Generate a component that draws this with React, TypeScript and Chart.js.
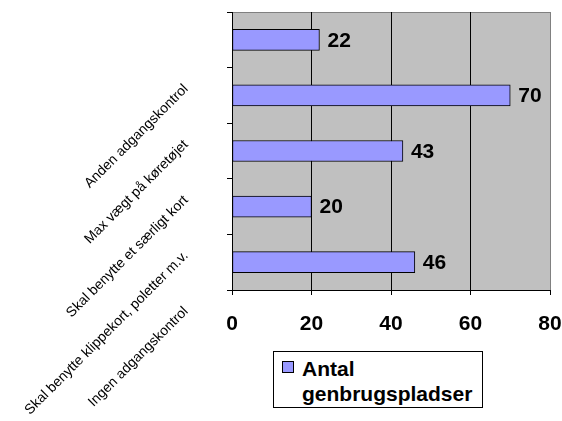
import React, { useEffect, useRef } from "react";
import { Chart, registerables } from "chart.js";

Chart.register(...registerables);

const categories = [
  "Anden adgangskontrol",
  "Max vægt på køretøjet",
  "Skal benytte et særligt kort",
  "Skal benytte klippekort, poletter m.v.",
  "Ingen adgangskontrol",
];
const values = [22, 70, 43, 20, 46];
const seriesName = "Antal genbrugspladser";
const xMin = 0;
const xMax = 80;
const xStep = 20;

const FONT = '"Liberation Sans", Arial, sans-serif';
const BAR_COLOR = "#9999ff";

const plotBgPlugin = {
  id: "plotBg",
  beforeDraw(chart: any) {
    const { ctx, chartArea: a } = chart;
    ctx.save();
    ctx.fillStyle = "#c0c0c0";
    ctx.fillRect(a.left, a.top, a.right - a.left, a.bottom - a.top);
    ctx.strokeStyle = "#808080";
    ctx.lineWidth = 1;
    ctx.beginPath();
    ctx.moveTo(a.left, Math.round(a.top) + 0.5);
    ctx.lineTo(a.right, Math.round(a.top) + 0.5);
    ctx.stroke();
    ctx.restore();
  },
};

const dataLabelPlugin = {
  id: "dataLabels",
  afterDatasetsDraw(chart: any) {
    const ctx = chart.ctx;
    const meta = chart.getDatasetMeta(0);
    const data = chart.data.datasets[0].data;
    ctx.save();
    ctx.font = `bold 21px ${FONT}`;
    ctx.fillStyle = "#000";
    ctx.textAlign = "left";
    ctx.textBaseline = "middle";
    meta.data.forEach((bar: any, i: number) => {
      ctx.fillText(String(data[i]), bar.x + 8, bar.y + 1);
    });
    ctx.restore();
  },
};

export default function App() {
  const canvasRef = useRef<HTMLCanvasElement | null>(null);

  useEffect(() => {
    if (!canvasRef.current) return;
    const chart = new Chart(canvasRef.current, {
      type: "bar",
      data: {
        labels: categories,
        datasets: [
          {
            label: seriesName,
            data: values,
            backgroundColor: BAR_COLOR,
            borderColor: "#000",
            borderWidth: 1,
            borderSkipped: false,
            barThickness: 21,
          },
        ],
      },
      options: {
        indexAxis: "y",
        responsive: false,
        animation: false,
        layout: { padding: { top: 12, right: 12, left: 0, bottom: 0 } },
        plugins: {
          legend: { display: false },
          tooltip: { enabled: false },
        },
        scales: {
          x: {
            type: "linear",
            min: xMin,
            max: xMax,
            ticks: {
              stepSize: xStep,
              color: "#000",
              font: { family: FONT, size: 21, weight: "bold" },
              padding: 17,
            },
            grid: {
              color: (c: any) => (c.tick && c.tick.value === xMax ? "#808080" : "#000"),
              tickColor: "#000",
              tickLength: 5,
              lineWidth: 1,
            },
            border: { display: true, color: "#000", width: 1 },
            afterFit: (s: any) => {
              s.height = 131;
              s.paddingLeft = 0;
              s.paddingRight = 0;
            },
          },
          y: {
            type: "category",
            ticks: {
              color: "#000",
              font: { family: FONT, size: 14 },
              minRotation: 45,
              maxRotation: 45,
              autoSkip: false,
              padding: 41,
              labelOffset: 47,
            },
            grid: {
              drawOnChartArea: false,
              drawTicks: true,
              tickLength: 5,
              tickColor: "#000",
              offset: true,
            },
            border: { display: true, color: "#000", width: 1 },
            afterFit: (s: any) => {
              s.width = 232;
              s.paddingTop = 0;
              s.paddingBottom = 0;
            },
          },
        },
      },
      plugins: [plotBgPlugin, dataLabelPlugin],
    } as any);
    return () => chart.destroy();
  }, []);

  return (
    <div style={{ position: "absolute", left: 0, top: 0, width: 562, height: 421, background: "#fff" }}>
      <canvas ref={canvasRef} width={562} height={421} style={{ display: "block" }} />
      <div
        style={{
          position: "absolute",
          left: 273,
          top: 351,
          width: 210,
          height: 57,
          boxSizing: "border-box",
          border: "1px solid #000",
          background: "#fff",
        }}
      >
        <div
          style={{
            position: "absolute",
            left: 8,
            top: 9,
            width: 12,
            height: 12,
            boxSizing: "border-box",
            border: "1px solid #000",
            background: BAR_COLOR,
          }}
        />
        <div
          style={{
            position: "absolute",
            left: 28,
            top: 4,
            width: 178,
            fontFamily: FONT,
            fontWeight: "bold",
            fontSize: 21,
            lineHeight: "25px",
            color: "#000",
          }}
        >
          {seriesName}
        </div>
      </div>
    </div>
  );
}
